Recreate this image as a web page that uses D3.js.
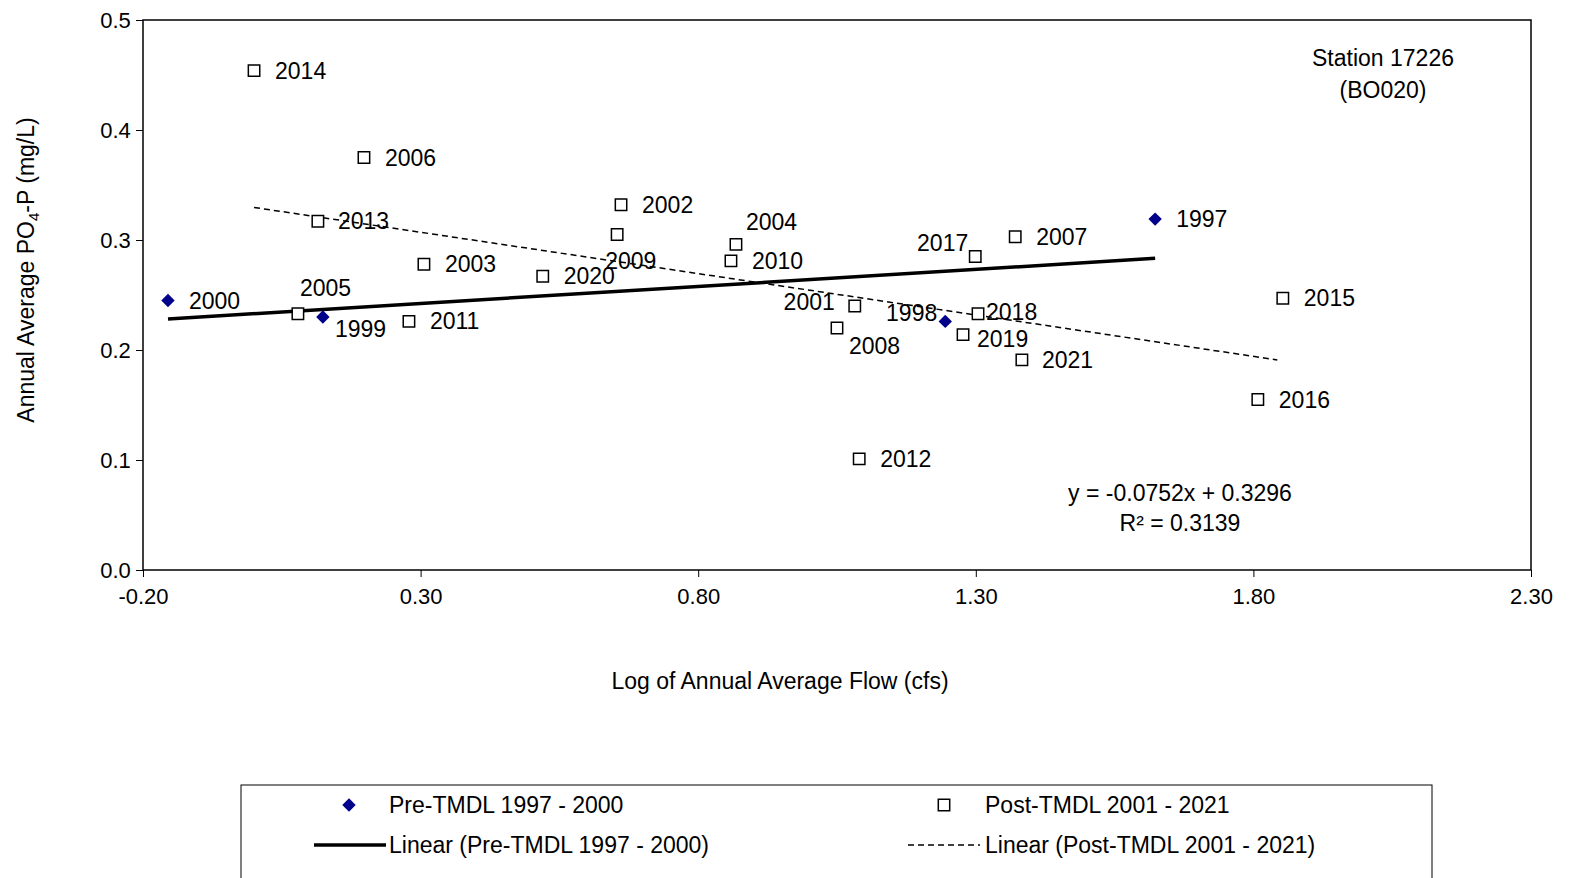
<!DOCTYPE html>
<html><head><meta charset="utf-8">
<script src="https://cdn.jsdelivr.net/npm/d3@7"></script>
<style>html,body{margin:0;background:#fff;overflow:hidden}svg{display:block;font-family:"Liberation Sans",Arial,sans-serif}</style>
</head><body><svg id="c" width="1591" height="878"></svg>
<script>
// Pre-TMDL points
const preYears = ["2000", "1999", "1998", "1997"];
const preX = [-0.155, 0.124, 1.245, 1.623];
const preY = [0.245, 0.230, 0.226, 0.319];
// Post-TMDL points
const postYears = ["2014","2006","2013","2005","2003","2011","2020","2002","2009","2004","2010","2001","2008","2012","2017","2007","2018","2019","2021","2015","2016"];
const postX = [0.000,0.198,0.115,0.079,0.306,0.279,0.520,0.661,0.654,0.868,0.859,1.082,1.050,1.090,1.299,1.371,1.304,1.277,1.383,1.853,1.808];
const postY = [0.454,0.375,0.317,0.233,0.278,0.226,0.267,0.332,0.305,0.296,0.281,0.240,0.220,0.101,0.285,0.303,0.233,0.214,0.191,0.247,0.155];
const preFit = {slope: 0.031, intercept: 0.233};
const postFit = {slope: -0.0752, intercept: 0.3296};
const xTicks = [-0.2, 0.3, 0.8, 1.3, 1.8, 2.3];
const yTicks = [0, 0.1, 0.2, 0.3, 0.4, 0.5];

// label offsets (px) where not default right
const labelPos = {"2005":[2,-24,"start"],"1999":[12,14,"start"],"2001":[-20,-2,"end"],"2017":[-7,-12,"end"],
  "1998":[-8,-6,"end"],"2009":[-12,28,"start"],"2008":[12,20,"start"],"2019":[14,6,"start"],"2018":[8,0,"start"],
  "2013":[20,2,"start"],"2021":[20,2,"start"],"2004":[10,-20,"start"]};

const svg = d3.select("#c");
const x = d3.scaleLinear().domain([-0.2, 2.3]).range([143, 1531]);
const y = d3.scaleLinear().domain([0, 0.5]).range([570, 20]);

svg.append("rect").attr("x",143).attr("y",20).attr("width",1388).attr("height",550)
  .attr("fill","none").attr("stroke","#000").attr("stroke-width",1.5);

svg.append("g").attr("transform","translate(0,570)")
  .call(d3.axisBottom(x).tickValues(xTicks).tickFormat(d => d3.format(".2f")(d).replace("−","-")).tickSize(7))
  .call(g => g.select(".domain").remove())
  .selectAll("text").attr("font-size",22).attr("dy","1.1em").attr("font-family","Liberation Sans, Arial");
svg.append("g").attr("transform","translate(143,0)")
  .call(d3.axisLeft(y).tickValues(yTicks).tickFormat(d3.format(".1f")).tickSize(7))
  .call(g => g.select(".domain").remove())
  .selectAll("text").attr("font-size",22).attr("dx","-0.1em").attr("font-family","Liberation Sans, Arial");

// trend lines
svg.append("line").attr("x1",x(-0.155)).attr("x2",x(1.623))
  .attr("y1",y(preFit.intercept+preFit.slope*-0.155)).attr("y2",y(preFit.intercept+preFit.slope*1.623))
  .attr("stroke","#000").attr("stroke-width",3.5);
svg.append("line").attr("x1",x(0.0)).attr("x2",x(1.843))
  .attr("y1",y(postFit.intercept)).attr("y2",y(postFit.intercept+postFit.slope*1.843))
  .attr("stroke","#000").attr("stroke-width",1.5).attr("stroke-dasharray","6,4");

const sq = d3.symbol().type(d3.symbolSquare).size(130);
const dia = d3.symbol().type(d3.symbolSquare).size(90);

svg.append("g").selectAll("path").data(postX).join("path")
  .attr("d",sq).attr("transform",(d,i)=>`translate(${x(d)},${y(postY[i])})`)
  .attr("fill","#fff").attr("stroke","#000").attr("stroke-width",1.5);
svg.append("g").selectAll("path").data(preX).join("path")
  .attr("d",dia).attr("transform",(d,i)=>`translate(${x(d)},${y(preY[i])}) rotate(45)`)
  .attr("fill","#00008b");

const labels = preYears.map((t,i)=>({t,x:preX[i],y:preY[i]}))
  .concat(postYears.map((t,i)=>({t,x:postX[i],y:postY[i]})));
svg.append("g").selectAll("text").data(labels).join("text")
  .attr("x",d=>x(d.x)+(labelPos[d.t]?labelPos[d.t][0]:21))
  .attr("y",d=>y(d.y)+(labelPos[d.t]?labelPos[d.t][1]:2))
  .attr("text-anchor",d=>labelPos[d.t]?labelPos[d.t][2]:"start")
  .attr("dominant-baseline","middle").attr("font-size",23).text(d=>d.t);

// annotations
const ann = svg.append("g").attr("font-size",23).attr("text-anchor","middle");
ann.append("text").attr("x",1383).attr("y",66).text("Station 17226");
ann.append("text").attr("x",1383).attr("y",98).text("(BO020)");
ann.append("text").attr("x",1180).attr("y",501).text("y = -0.0752x + 0.3296");
ann.append("text").attr("x",1180).attr("y",531).text("R² = 0.3139");

svg.append("text").attr("x",780).attr("y",689).attr("text-anchor","middle").attr("font-size",23)
  .text("Log of Annual Average Flow (cfs)");
const yl = svg.append("text").attr("transform","translate(34,270) rotate(-90)")
  .attr("text-anchor","middle").attr("font-size",23);
yl.append("tspan").text("Annual Average PO");
yl.append("tspan").attr("font-size",15).attr("dy",5).text("4");
yl.append("tspan").attr("dy",-5).text("-P (mg/L)");

// legend
const lg = svg.append("g").attr("font-size",23);
lg.append("rect").attr("x",241).attr("y",785).attr("width",1191).attr("height",100)
  .attr("fill","#fff").attr("stroke","#000").attr("stroke-width",1);
lg.append("path").attr("d",dia).attr("transform","translate(349,805) rotate(45)").attr("fill","#00008b");
lg.append("text").attr("x",389).attr("y",813).text("Pre-TMDL 1997 - 2000");
lg.append("path").attr("d",sq).attr("transform","translate(944,805)").attr("fill","#fff").attr("stroke","#000").attr("stroke-width",1.5);
lg.append("text").attr("x",985).attr("y",813).text("Post-TMDL 2001 - 2021");
lg.append("line").attr("x1",314).attr("x2",386).attr("y1",845).attr("y2",845).attr("stroke","#000").attr("stroke-width",3.5);
lg.append("text").attr("x",389).attr("y",853).text("Linear (Pre-TMDL 1997 - 2000)");
lg.append("line").attr("x1",908).attr("x2",980).attr("y1",845).attr("y2",845).attr("stroke","#000").attr("stroke-width",1.5).attr("stroke-dasharray","6,4");
lg.append("text").attr("x",985).attr("y",853).text("Linear (Post-TMDL 2001 - 2021)");
</script></body></html>
